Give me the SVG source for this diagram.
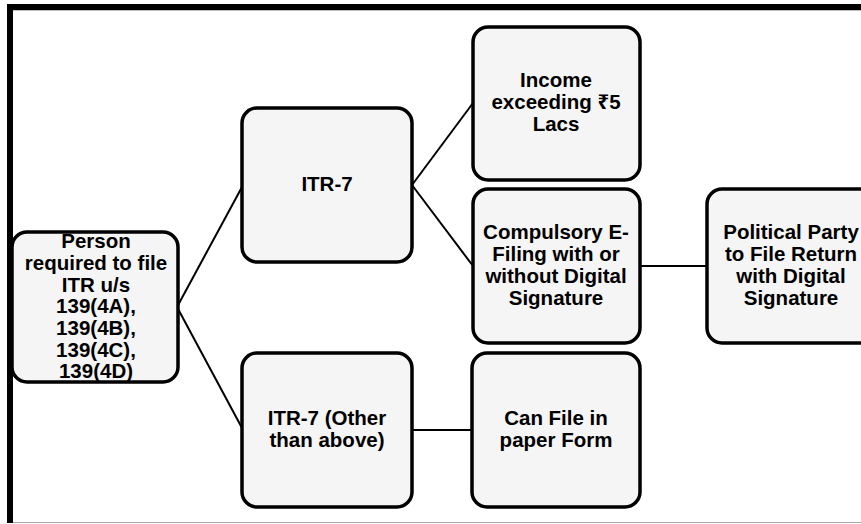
<svg xmlns="http://www.w3.org/2000/svg" width="861" height="524" viewBox="0 0 861 524">
<style>
.box{fill:#f5f5f5;stroke:#000;stroke-width:3.5}
.t{font-family:"Liberation Sans","Noto Sans",sans-serif;font-weight:bold;font-size:20.5px;fill:#000;text-anchor:middle}
.c{stroke:#000;stroke-width:2;fill:none}
</style>
<rect x="0" y="0" width="861" height="524" fill="#fff"/>
<g id="frame">
<line x1="7" y1="7" x2="861" y2="7" stroke="#000" stroke-width="6"/>
<line x1="10" y1="4" x2="10" y2="523" stroke="#000" stroke-width="6"/>
<line x1="13" y1="10.5" x2="861" y2="10.5" stroke="#bbb" stroke-width="1"/>
<line x1="13" y1="522.5" x2="861" y2="522.5" stroke="#aaa" stroke-width="1.2"/>
</g>
<g id="connectors">
<line class="c" x1="177" y1="307" x2="242" y2="187"/>
<line class="c" x1="177" y1="307" x2="242" y2="428"/>
<line class="c" x1="412" y1="185" x2="473" y2="103"/>
<line class="c" x1="412" y1="185" x2="473" y2="266"/>
<line class="c" x1="640" y1="266" x2="707" y2="266"/>
<line class="c" x1="412" y1="430" x2="472" y2="430"/>
</g>
<g id="person">
<rect class="box" x="12" y="232" width="166" height="150" rx="15"/>
<text class="t" x="96" y="248">Person</text>
<text class="t" x="96" y="270">required to file</text>
<text class="t" x="96" y="291.5">ITR u/s</text>
<text class="t" x="96" y="313">139(4A),</text>
<text class="t" x="96" y="335">139(4B),</text>
<text class="t" x="96" y="356.5">139(4C),</text>
<text class="t" x="96" y="378">139(4D)</text>
</g>
<g id="itr7">
<rect class="box" x="242" y="108" width="170" height="154" rx="15"/>
<text class="t" x="327" y="191">ITR-7</text>
</g>
<g id="itr7other">
<rect class="box" x="242" y="353" width="170" height="154" rx="15"/>
<text class="t" x="327" y="425">ITR-7 (Other</text>
<text class="t" x="327" y="447">than above)</text>
</g>
<g id="income">
<rect class="box" x="473" y="27" width="167" height="153" rx="15"/>
<text class="t" x="556" y="87">Income</text>
<text class="t" x="556" y="109">exceeding ₹5</text>
<text class="t" x="556" y="131">Lacs</text>
</g>
<g id="efiling">
<rect class="box" x="473" y="189" width="167" height="154" rx="15"/>
<text class="t" x="556" y="239">Compulsory E-</text>
<text class="t" x="556" y="261">Filing with or</text>
<text class="t" x="556" y="283">without Digital</text>
<text class="t" x="556" y="305">Signature</text>
</g>
<g id="political">
<rect class="box" x="707" y="189" width="168" height="154" rx="15"/>
<text class="t" x="791" y="239">Political Party</text>
<text class="t" x="791" y="261">to File Return</text>
<text class="t" x="791" y="283">with Digital</text>
<text class="t" x="791" y="305">Signature</text>
</g>
<g id="paper">
<rect class="box" x="472" y="353" width="168" height="154" rx="15"/>
<text class="t" x="556" y="425">Can File in</text>
<text class="t" x="556" y="447">paper Form</text>
</g>
</svg>
